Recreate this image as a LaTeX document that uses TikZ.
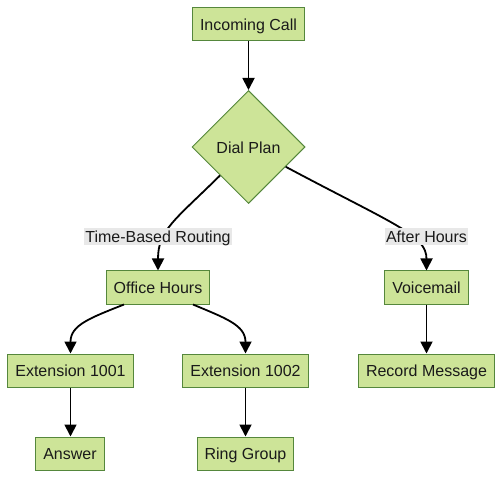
\documentclass[tikz,border=0pt]{standalone}
\usepackage{fontspec}
\setmainfont{Liberation Sans}
\usetikzlibrary{shapes.geometric,arrows.meta,calc}
\definecolor{boxfill}{HTML}{CDE498}
\definecolor{boxline}{RGB}{85,135,60}
\definecolor{lblfill}{HTML}{E8E8E8}
\definecolor{txt}{HTML}{1A1A1A}
\begin{document}
\begin{tikzpicture}[x=1pt,y=-1pt,
  every node/.style={font=\fontsize{16}{19}\selectfont, text=txt},
  box/.style={draw=boxline, fill=boxfill, line width=1pt, rectangle,
    minimum height=33pt, inner xsep=7.5pt, inner ysep=0pt, text height=13.5pt, text depth=1pt},
  dia/.style={draw=boxline, fill=boxfill, line width=1pt, diamond, aspect=1,
    minimum width=113pt, minimum height=113pt, inner sep=0pt, text height=13.5pt, text depth=1pt},
  lbl/.style={fill=lblfill, inner xsep=1pt, inner ysep=1pt, text height=13.5pt, text depth=1.5pt},
  conn/.style={draw=black, line width=1.8pt, -{Triangle[width=12pt,length=12pt]}}
]
\useasboundingbox (0,0) rectangle (503,478);

\node[box] (ic) at (248.5,24.5) {Incoming Call};
\node[dia] (dp) at (248.5,147) {Dial Plan};
\node[box] (oh) at (158,287.5) {Office Hours};
\node[box] (vm) at (426.5,287.5) {Voicemail};
\node[box] (e1) at (70.5,370.5) {Extension 1001};
\node[box] (e2) at (245.5,370.5) {Extension 1002};
\node[box] (rm) at (426.5,370.5) {Record Message};
\node[box] (an) at (70,453.5) {Answer};
\node[box] (rg) at (245.5,453.5) {Ring Group};

\draw[conn] (ic.south) -- (dp.north);
\draw[conn] (dp.south west) .. controls (175,220) and (158,230) .. (oh.north);
\draw[conn] (dp.-28) .. controls (395,225) and (426.5,235) .. (vm.north);
\draw[conn] ($(oh.south)+(-34,0)$) .. controls (90,318) and (70.5,325) .. (e1.north);
\draw[conn] ($(oh.south)+(35,0)$) .. controls (225,318) and (245.5,325) .. (e2.north);
\draw[conn] (e1.south) -- (e1.south |- an.north);
\draw[conn] (e2.south) -- (rg.north);
\draw[conn] (vm.south) -- (rm.north);

\node[lbl] (l1) at (158,236.5) {Time-Based Routing};
\node[lbl] (l2) at (426.5,236.5) {After Hours};
\end{tikzpicture}
\end{document}
